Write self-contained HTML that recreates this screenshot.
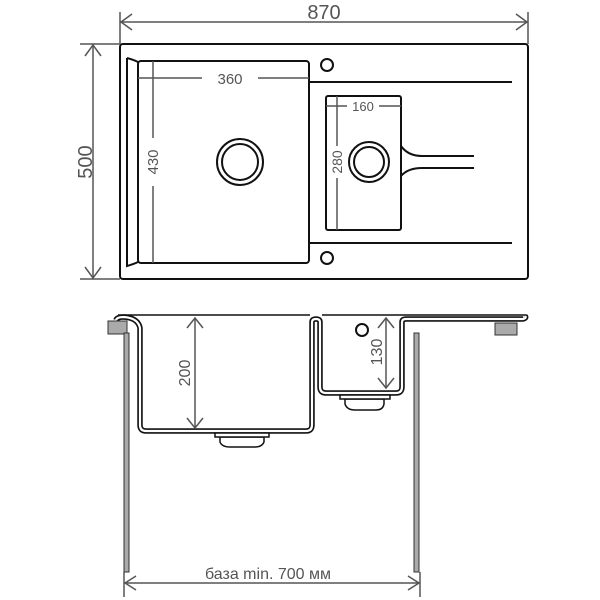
<!DOCTYPE html><html><head><style>body{margin:0;background:#fff}svg{display:block}text{font-family:"Liberation Sans",sans-serif;fill:#555}</style></head><body>
<svg width="600" height="600" viewBox="0 0 600 600" xmlns="http://www.w3.org/2000/svg">
<defs><path id="pr" d="M116 320 Q117 317 124 317 Q138 318 140 328 L140 425 Q140 431 146 431 L306 431 Q312 431 312 425 L312 322 Q312 319 316 319 Q320 319 320 322 L320 387 Q320 393 326 393 L396 393 Q402 393 402 387 L402 322 Q402 319 406 319 L523 319 Q527 318 525 316"/></defs>
<g fill="none" stroke="#111" stroke-width="2">
<rect x="120" y="44" width="408" height="235" rx="3"/>
<rect x="138" y="61" width="171" height="202" rx="3"/>
<path d="M127 58 Q134 60 138 62 M127 58 L127 266 Q134 264 138 262"/>
<rect x="326" y="96" width="75" height="134" rx="2"/>
<line x1="309" y1="82" x2="512" y2="82"/><line x1="309" y1="243" x2="512" y2="243"/>
<circle cx="327" cy="65" r="6"/><circle cx="327" cy="258" r="6"/>
<circle cx="240" cy="162" r="23"/><circle cx="240" cy="162" r="18"/>
<circle cx="369" cy="162" r="20"/><circle cx="369" cy="162" r="15"/>
<path d="M401 146 Q408 156 422 156 L474 156 M401 176 Q408 168 422 168 L474 168"/>
</g>
<g fill="#aaa" stroke="#333" stroke-width="1">
<rect x="108" y="321" width="19" height="13"/><rect x="495" y="323" width="22" height="12"/>
<rect x="124" y="333" width="5" height="239"/><rect x="414" y="333" width="5" height="239"/>
</g>
<g fill="none" stroke-linejoin="round">
<use href="#pr" stroke="#111" stroke-width="5.5"/>
<use href="#pr" stroke="#fff" stroke-width="2.2"/>
<path d="M118 315 L310 315 M322 315 L526 315" stroke="#111" stroke-width="1.4"/>
</g>
<g fill="#fff" stroke="#111" stroke-width="1.5">
<path d="M220 437 L220 442 Q222 447 230 447 L255 447 Q262 447 264 442 L264 437 Z"/><rect x="215" y="433" width="54" height="4"/>
<path d="M345 399 L345 404 Q347 410 355 410 L376 410 Q383 410 384 404 L384 399 Z"/><rect x="340" y="395" width="50" height="4"/>
<circle cx="362" cy="330" r="6" stroke-width="2"/>
</g>
<g stroke="#555" stroke-width="1.5" fill="none">
<line x1="138" y1="78" x2="202" y2="78"/><line x1="258" y1="78" x2="309" y2="78"/>
<line x1="153" y1="61" x2="153" y2="138"/><line x1="153" y1="186" x2="153" y2="263"/>
<line x1="326" y1="106" x2="347" y2="106"/><line x1="379" y1="106" x2="401" y2="106"/>
<line x1="337" y1="96" x2="337" y2="146"/><line x1="337" y1="178" x2="337" y2="230"/>
<line x1="120" y1="12" x2="120" y2="44"/><line x1="528" y1="12" x2="528" y2="44"/>
<line x1="120" y1="22" x2="528" y2="22"/>
<path d="M132 14 L121 22 L132 30 M516 14 L527 22 L516 30"/>
<line x1="80" y1="44" x2="120" y2="44"/><line x1="80" y1="279" x2="120" y2="279"/>
<line x1="93" y1="44" x2="93" y2="279"/>
<path d="M85 56 L93 45 L101 56 M85 267 L93 278 L101 267"/>
<line x1="195" y1="318" x2="195" y2="428"/>
<path d="M187 328 L195 318 L203 328 M187 418 L195 428 L203 418"/>
<line x1="386" y1="318" x2="386" y2="388"/>
<path d="M378 328 L386 318 L394 328 M378 378 L386 388 L394 378"/>
<line x1="124" y1="572" x2="124" y2="597"/><line x1="420" y1="572" x2="420" y2="597"/>
<line x1="124" y1="583" x2="420" y2="583"/>
<path d="M136 576 L125 583 L136 590 M408 576 L419 583 L408 590"/>
</g>
<g font-size="15">
<text x="230" y="84" text-anchor="middle">360</text>
<text x="363" y="111" text-anchor="middle" font-size="13">160</text>
<text transform="translate(158,162) rotate(-90)" text-anchor="middle">430</text>
<text transform="translate(342,162) rotate(-90)" text-anchor="middle" font-size="14">280</text>
<text transform="translate(190,373) rotate(-90)" text-anchor="middle" font-size="16">200</text>
<text transform="translate(382,352) rotate(-90)" text-anchor="middle" font-size="16">130</text>
</g>
<text x="324" y="19" text-anchor="middle" font-size="20">870</text>
<text transform="translate(92,162) rotate(-90)" text-anchor="middle" font-size="20">500</text>
<text x="268" y="579" text-anchor="middle" font-size="16">база min. 700 мм</text>
</svg></body></html>
